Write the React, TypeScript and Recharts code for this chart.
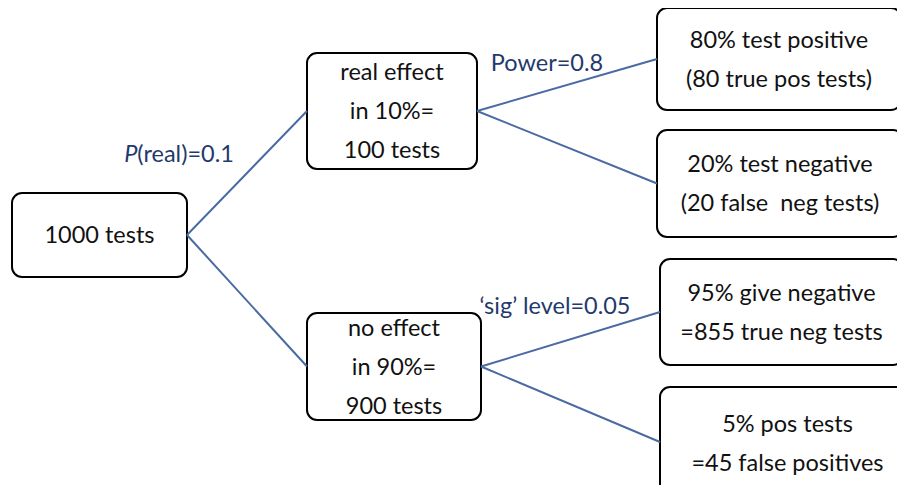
import React from "react";
import { ComposedChart, XAxis, YAxis, Scatter, ReferenceArea, ReferenceLine } from "recharts";

// Diagram nodes: text lines
const nodeLabels: string[][] = [
  ["1000 tests"],
  ["real effect", "in 10%=", "100 tests"],
  ["no effect", "in 90%=", "900 tests"],
  ["80% test positive", "(80 true pos tests)"],
  ["20% test negative", "(20 false\u00a0 neg tests)"],
  ["95% give negative", "=855 true neg tests"],
  ["5% pos tests", "=45 false positives"],
];
// Node extents in diagram units (left, right, top, bottom)
const nodeLeft = [12, 307, 307, 657, 657, 660, 660];
const nodeRight = [187, 477, 481, 901, 903, 903, 915];
const nodeTop = [193, 53, 313, 8, 130, 259, 387];
const nodeBottom = [277, 169, 420, 110, 237, 365, 500];

// Tree edges: parent -> child
const edgeFrom = [0, 0, 1, 1, 2, 2];
const edgeTo = [1, 2, 3, 4, 5, 6];

// Edge annotations
const edgeLabelText = ["P(real)=0.1", "Power=0.8", "\u2018sig\u2019 level=0.05"];
const edgeLabelX = [179, 547, 555];
const edgeLabelY = [153, 62, 305];

const W = 905;
const H = 493;
const FONT = "Lato, 'Open Sans', sans-serif";
const LINE_COLOR = "#4a6aa3";
const LABEL_COLOR = "#1f3a6b";

const nodeData = nodeLabels.map((lines, i) => ({
  x: (nodeLeft[i] + nodeRight[i]) / 2,
  y: (nodeTop[i] + nodeBottom[i]) / 2,
  lines,
}));

const labelData = edgeLabelText.map((t, i) => ({ x: edgeLabelX[i], y: edgeLabelY[i], t }));

const NodeText = (props: any) => {
  const { cx, cy, payload } = props;
  const lines: string[] = payload.lines;
  const lh = 39;
  const start = cy - ((lines.length - 1) * lh) / 2 - 1;
  return (
    <g>
      {lines.map((l, k) => (
        <text
          key={k}
          x={cx}
          y={start + k * lh}
          textAnchor="middle"
          dominantBaseline="central"
          fontFamily={FONT}
          fontSize={23.5}
          fill="#111"
        >
          {l}
        </text>
      ))}
    </g>
  );
};

const EdgeLabel = (props: any) => {
  const { cx, cy, payload } = props;
  const t: string = payload.t;
  const italicP = t.startsWith("P(");
  return (
    <text
      x={cx}
      y={cy}
      textAnchor="middle"
      dominantBaseline="central"
      fontFamily={FONT}
      fontSize={23.5}
      fill={LABEL_COLOR}
    >
      {italicP ? (
        <>
          <tspan fontStyle="italic">P</tspan>
          <tspan>{t.slice(1)}</tspan>
        </>
      ) : (
        t
      )}
    </text>
  );
};

export default function App() {
  return (
    <div style={{ margin: -8, background: "#fff", width: W, height: H }}>
      <ComposedChart width={W} height={H} margin={{ top: 0, right: 0, bottom: 0, left: 0 }}>
        <XAxis type="number" dataKey="x" domain={[0, W]} hide allowDataOverflow />
        <YAxis type="number" dataKey="y" domain={[0, H]} reversed hide allowDataOverflow />
        {edgeFrom.map((f, i) => {
          const t = edgeTo[i];
          return (
            <ReferenceLine
              key={"e" + i}
              segment={[
                { x: nodeRight[f], y: (nodeTop[f] + nodeBottom[f]) / 2 },
                { x: nodeLeft[t], y: (nodeTop[t] + Math.min(nodeBottom[t], 497)) / 2 },
              ]}
              stroke={LINE_COLOR}
              strokeWidth={2}
              ifOverflow="visible"
            />
          );
        })}
        {nodeLabels.map((_, i) => (
          <ReferenceArea
            key={"n" + i}
            x1={nodeLeft[i]}
            x2={nodeRight[i]}
            y1={nodeTop[i]}
            y2={nodeBottom[i]}
            fill="#fff"
            fillOpacity={1}
            stroke="#000"
            strokeWidth={2}
            radius={10}
            ifOverflow="visible"
          />
        ))}
        <Scatter data={nodeData} dataKey="y" shape={NodeText} isAnimationActive={false} />
        <Scatter data={labelData} dataKey="y" shape={EdgeLabel} isAnimationActive={false} />
      </ComposedChart>
    </div>
  );
}
